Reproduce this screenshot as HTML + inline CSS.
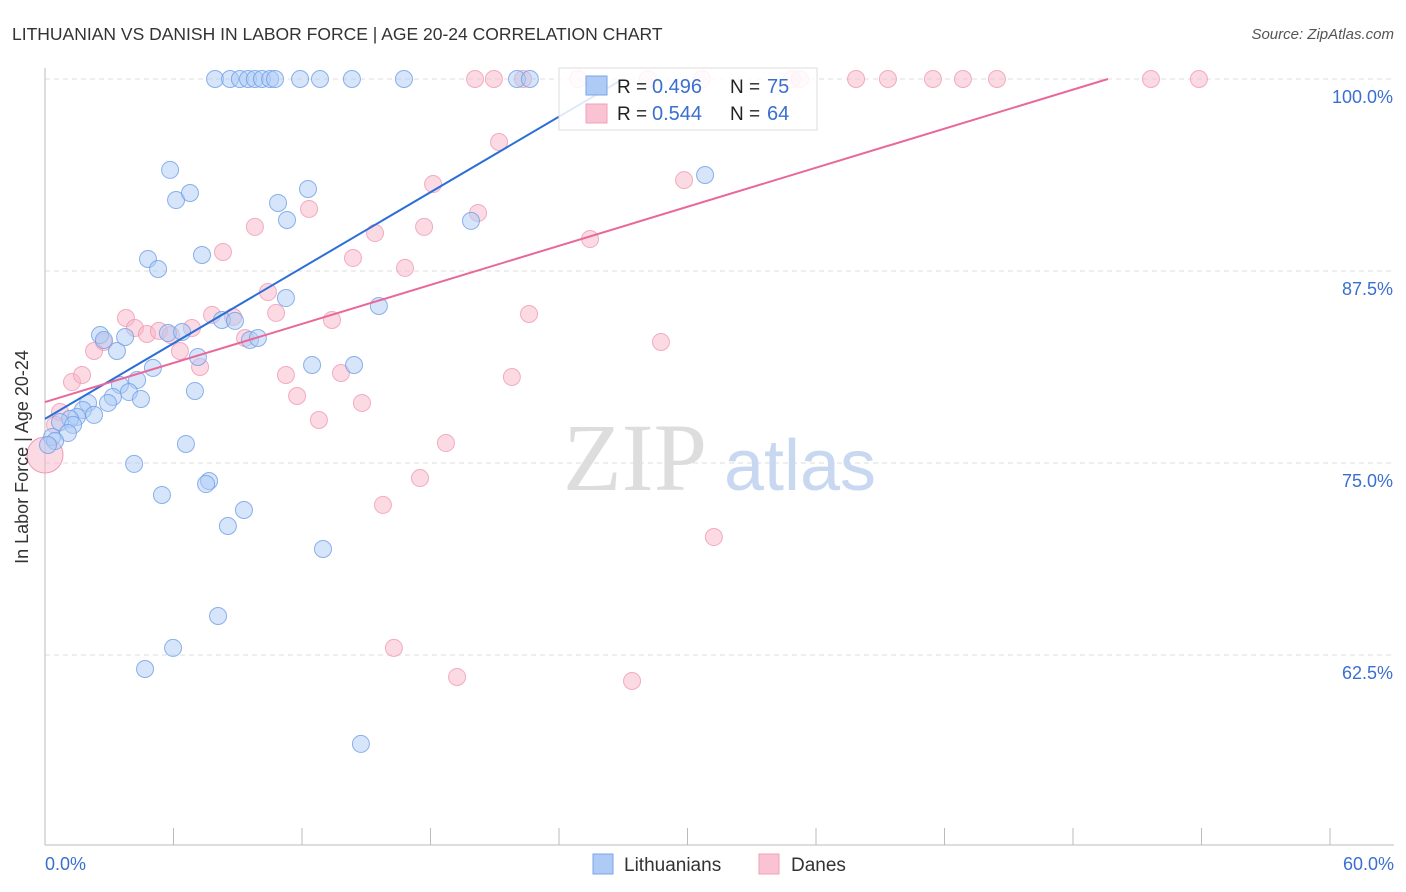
<!DOCTYPE html>
<html><head><meta charset="utf-8"><style>
body{margin:0;background:#fff;font-family:"Liberation Sans",sans-serif;}
svg{display:block}
</style></head><body>
<svg id="chart" width="1406" height="892" xmlns="http://www.w3.org/2000/svg">
<text x="12" y="40" font-size="17.5" fill="#333">LITHUANIAN VS DANISH IN LABOR FORCE | AGE 20-24 CORRELATION CHART</text>
<text x="1394" y="39" font-size="15" fill="#555" font-style="italic" text-anchor="end">Source: ZipAtlas.com</text>
<g id="grid"></g>
<g><text x="635" y="490" font-size="96" fill="#ddd" font-family="Liberation Serif,serif" text-anchor="middle">ZIP</text><text x="800" y="490" font-size="72" fill="#c8d8f0" text-anchor="middle">atlas</text></g>
<g id="axes"></g>
<g id="pts"></g>
<g id="lines"></g>
<text x="28" y="457" font-size="18" fill="#333" text-anchor="middle" transform="rotate(-90 28 457)">In Labor Force | Age 20-24</text>
<g>
<rect x="559" y="68" width="258" height="62" fill="#fff" fill-opacity="0.85" stroke="#ddd"/>
<rect x="586" y="76" width="21" height="19" fill="#aecbf5" stroke="#7aa6e8"/>
<rect x="586" y="104" width="21" height="19" fill="#f9c3d3" stroke="#f0a0b8"/>
<text x="617" y="93" font-size="19" fill="#222">R = </text><text x="652" y="93" font-size="20" fill="#3a6fd0">0.496</text>
<text x="730" y="93" font-size="19" fill="#222">N = </text><text x="767" y="93" font-size="20" fill="#3a6fd0">75</text>
<text x="617" y="120" font-size="19" fill="#222">R = </text><text x="652" y="120" font-size="20" fill="#3a6fd0">0.544</text>
<text x="730" y="120" font-size="19" fill="#222">N = </text><text x="767" y="120" font-size="20" fill="#3a6fd0">64</text>
</g>
<g>
<rect x="593" y="854" width="20" height="20" fill="#aecbf5" stroke="#7aa6e8"/>
<text x="624" y="871" font-size="19" fill="#333">Lithuanians</text>
<rect x="759" y="854" width="20" height="20" fill="#f9c3d3" stroke="#f0a0b8"/>
<text x="791" y="871" font-size="19" fill="#333">Danes</text>
</g>
</svg>
<script>
const blueX=[7.94,8.64,9.10,9.48,9.80,10.13,10.51,10.74,11.91,12.84,14.33,16.76,22.04,22.64,5.84,6.12,6.77,12.28,10.88,11.30,19.89,30.82,4.81,5.28,7.33,11.25,15.59,2.57,2.75,3.36,3.74,5.74,6.40,8.26,8.87,9.57,9.94,7.14,12.47,14.43,5.04,4.30,3.50,3.92,3.17,4.48,2.94,7.00,2.01,1.77,2.29,1.49,1.17,0.70,1.31,1.07,0.33,0.47,0.14,4.16,6.58,5.46,7.66,7.52,9.29,8.54,12.98,8.08,5.98,4.67,14.75];
const blueY=[100,100,100,100,100,100,100,100,100,100,100,100,100,100,94.08,92.12,92.58,92.84,91.93,90.82,90.76,93.75,88.28,87.63,88.54,85.74,85.22,83.33,83.01,82.29,83.20,83.46,83.53,84.31,84.25,83.01,83.14,81.90,81.38,81.38,81.19,80.40,80.08,79.62,79.30,79.17,78.91,79.69,78.91,78.45,78.13,78.00,77.87,77.67,77.48,76.95,76.69,76.43,76.17,74.94,76.24,72.92,73.83,73.63,71.94,70.90,69.40,65.04,62.96,61.59,56.71];
const pinkX=[20.08,20.96,22.32,24.89,28.15,30.68,34.88,35.25,37.87,39.36,41.46,42.86,44.45,51.64,53.88,21.20,29.84,18.12,12.33,20.22,9.80,17.70,15.41,25.45,8.31,14.38,16.81,10.41,3.78,7.80,8.78,10.79,13.40,22.60,4.20,4.76,5.32,6.86,5.88,9.34,2.75,2.29,6.30,28.76,7.24,11.25,13.82,21.80,1.26,1.73,11.77,14.80,12.79,0.70,0.47,18.72,17.51,15.78,31.23,16.29,19.24,27.41];
const pinkY=[100,100,100,100,100,100,100,100,100,100,100,100,100,100,100,95.90,93.42,93.16,91.54,91.28,90.37,90.37,89.97,89.58,88.74,88.35,87.70,86.13,84.44,84.64,84.51,84.77,84.31,84.70,83.79,83.40,83.60,83.79,83.33,83.14,82.88,82.29,82.29,82.88,81.25,80.73,80.86,80.60,80.27,80.73,79.36,78.91,77.80,78.32,77.48,76.30,74.02,72.27,70.18,62.96,61.07,60.81];
const blueTrend=[0,77.87,26.99,100];
const pinkTrend=[0,78.97,49.63,100];
const yTicks=[100,87.5,75,62.5];
const yTickLabels=["100.0%","87.5%","75.0%","62.5%"];
const xTickLabels=["0.0%","60.0%"];
const NS="http://www.w3.org/2000/svg";
const X=v=>45+v/60*1285, Y=v=>79+(100-v)*15.36;
function mk(t,a,p){const e=document.createElementNS(NS,t);for(const k in a)e.setAttribute(k,a[k]);p.appendChild(e);return e;}
const grid=document.getElementById('grid'),axes=document.getElementById('axes'),pts=document.getElementById('pts'),lines=document.getElementById('lines');
yTicks.forEach((t,i)=>{
 const l=mk('line',{x1:45,x2:1394,y1:Y(t),y2:Y(t),stroke:'#ddd','stroke-dasharray':'5,4'},grid);
 
 
 const tx=mk('text',{x:1393,y:Y(t)+24,'font-size':18,fill:'#3a6fd0','text-anchor':'end'},axes);
 tx.textContent=yTickLabels[i];
 
 
});
let ax=mk('line',{x1:45,x2:45,y1:68,y2:845,stroke:'#bbb'},axes);


ax=mk('line',{x1:45,x2:1394,y1:845,y2:845,stroke:'#bbb'},axes);


for(let i=0;i<=10;i++){const t=mk('line',{x1:X(i*6),x2:X(i*6),y1:828,y2:845,stroke:'#bbb'},axes);
 
 }
[[0,'start',45],[1,'end',1394]].forEach(([i,a,x])=>{const t=mk('text',{x:x,y:870,'font-size':18,fill:'#3a6fd0','text-anchor':a},axes);t.textContent=xTickLabels[i];
 
 });
function dots(xs,ys,fill,stroke,name){xs.forEach((x,i)=>{const c=mk('circle',{cx:X(x),cy:Y(ys[i]),r:8.5,fill:fill,'fill-opacity':0.5,stroke:stroke,'stroke-opacity':0.8,'stroke-width':1},pts);
 
 });}
dots(pinkX,pinkY,'#f7b6c9','#f09ab4','dane-point');
const big=mk('circle',{cx:X(0),cy:Y(75.52),r:18,fill:'#f7b6c9','fill-opacity':0.5,stroke:'#f09ab4'},pts);


dots(blueX,blueY,'#aecbf5','#6f9fe6','lithuanian-point');
let tl=mk('line',{x1:X(blueTrend[0]),y1:Y(blueTrend[1]),x2:X(blueTrend[2]),y2:Y(blueTrend[3]),stroke:'#2b6fd6','stroke-width':2},lines);


tl=mk('line',{x1:X(pinkTrend[0]),y1:Y(pinkTrend[1]),x2:X(pinkTrend[2]),y2:Y(pinkTrend[3]),stroke:'#e8689a','stroke-width':2},lines);


</script>
</body></html>
